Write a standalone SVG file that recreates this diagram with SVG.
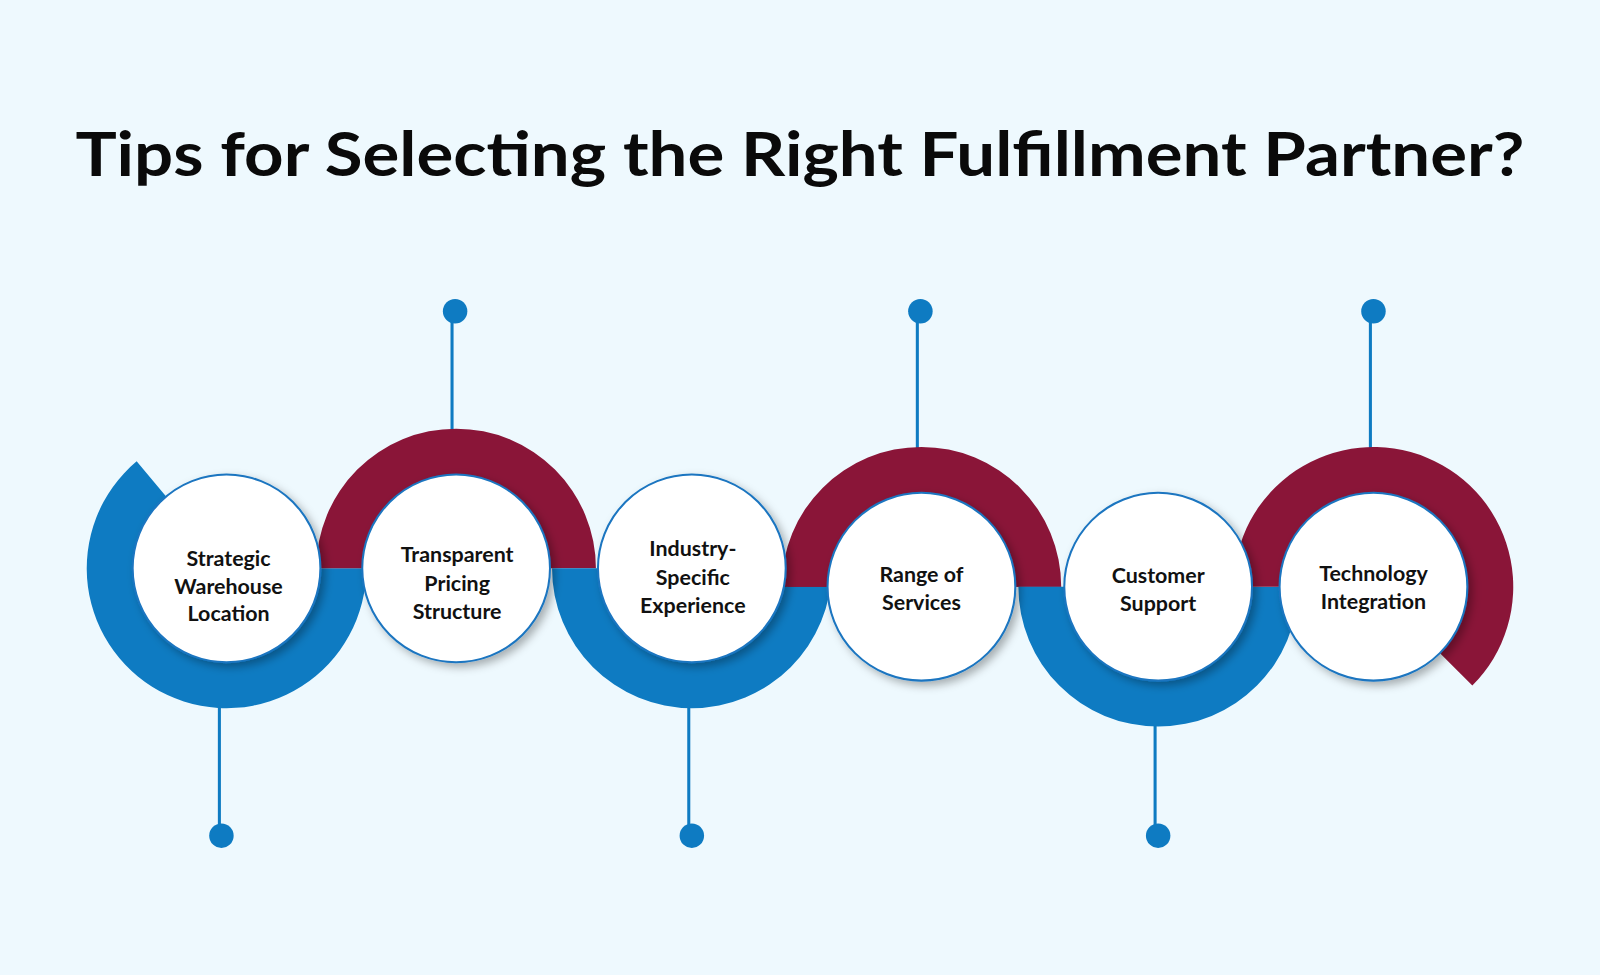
<svg xmlns="http://www.w3.org/2000/svg" width="1600" height="975" viewBox="0 0 1600 975">
<defs>
<style>
.b{fill:#0e7bc2}.m{fill:#8a1538}
.c{fill:#fff;stroke:#1a75c0;stroke-width:2;filter:url(#sh)}
.s{stroke:#0e7bc2;stroke-width:3}
.t{font-family:"Lato","Open Sans",sans-serif;font-weight:bold;font-size:21px;fill:#111;text-anchor:middle}
</style>
<filter id="sh" x="-20%" y="-20%" width="150%" height="150%"><feDropShadow dx="4" dy="4" stdDeviation="4" flood-color="#000" flood-opacity="0.3"/></filter>
</defs>
<rect width="1600" height="975" fill="#eef9fe"/>
<g transform="scale(1.0204)">
<text x="784" y="172" font-family="Lato,'Open Sans',sans-serif" font-weight="bold" font-size="60" fill="#0a0a0a" text-anchor="middle" textLength="1420" lengthAdjust="spacingAndGlyphs">Tips for Selecting the Right Fulfillment Partner?</text>
<g id="connectors">
<line class="s" x1="215" y1="690" x2="215" y2="815"/><circle class="b" cx="217" cy="819" r="12"/>
<line class="s" x1="443" y1="310" x2="443" y2="425"/><circle class="b" cx="446" cy="305" r="12"/>
<line class="s" x1="675" y1="690" x2="675" y2="815"/><circle class="b" cx="678" cy="819" r="12"/>
<line class="s" x1="899" y1="310" x2="899" y2="442"/><circle class="b" cx="902" cy="305" r="12"/>
<line class="s" x1="1132" y1="707" x2="1132" y2="815"/><circle class="b" cx="1135" cy="819" r="12"/>
<line class="s" x1="1343" y1="310" x2="1343" y2="442"/><circle class="b" cx="1346" cy="305" r="12"/>
</g>
<g id="rings">
<path class="b" d="M359,557 A137,137 0 1 1 133.9,452.1 L162.8,486.5 A92,92 0 1 0 314,557 Z"/>
<path class="m" d="M310,557 A137,137 0 0 1 584,557 L539,557 A92,92 0 0 0 355,557 Z"/>
<path class="b" d="M815,557 A137,137 0 0 1 541,557 L586,557 A92,92 0 0 0 770,557 Z"/>
<path class="m" d="M772,575 L772,557 L784,557 A137,137 0 0 1 1040,575 L995,575 A92,92 0 0 0 811,575 Z"/>
<path class="m" d="M766,575 A137,137 0 0 1 1040,575 L995,575 A92,92 0 0 0 811,575 Z"/>
<path class="b" d="M1272,575 A137,137 0 0 1 998,575 L1043,575 A92,92 0 0 0 1227,575 Z"/>
<path class="m" d="M1209,575 A137,137 0 1 1 1442.9,671.9 L1411,640 A92,92 0 1 0 1254,575 Z"/>
</g>
<g id="n1"><circle class="c" cx="222" cy="557" r="92"/><text class="t" x="224" y="555">Strategic</text><text class="t" x="224" y="582">Warehouse</text><text class="t" x="224" y="609">Location</text></g>
<g id="n2"><circle class="c" cx="447" cy="557" r="92"/><text class="t" x="448" y="551">Transparent</text><text class="t" x="448" y="579">Pricing</text><text class="t" x="448" y="607">Structure</text></g>
<g id="n3"><circle class="c" cx="678" cy="557" r="92"/><text class="t" x="679" y="545">Industry-</text><text class="t" x="679" y="573">Specific</text><text class="t" x="679" y="601">Experience</text></g>
<g id="n4"><circle class="c" cx="903" cy="575" r="92"/><text class="t" x="903" y="570">Range of</text><text class="t" x="903" y="598">Services</text></g>
<g id="n5"><circle class="c" cx="1135" cy="575" r="92"/><text class="t" x="1135" y="571">Customer</text><text class="t" x="1135" y="599">Support</text></g>
<g id="n6"><circle class="c" cx="1346" cy="575" r="92"/><text class="t" x="1346" y="569">Technology</text><text class="t" x="1346" y="597">Integration</text></g>
</g>
</svg>
